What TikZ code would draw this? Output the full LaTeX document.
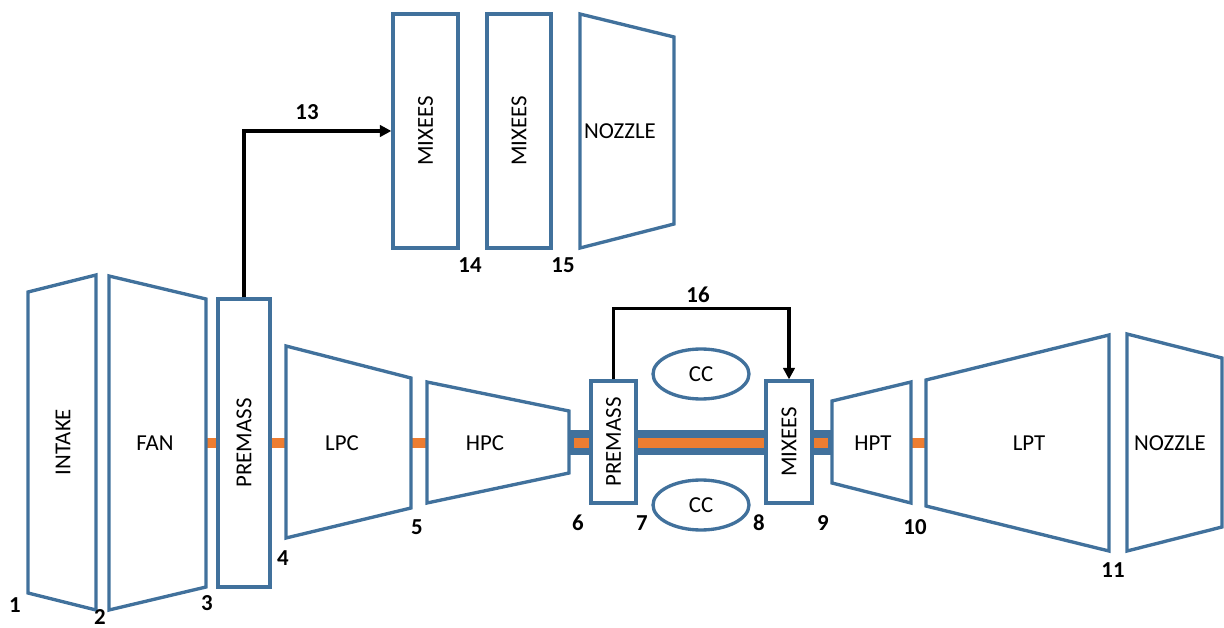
\documentclass[tikz,border=0pt]{standalone}
\usepackage{fontspec}
\setmainfont{Carlito}
\usepackage{graphicx}
\usetikzlibrary{arrows.meta,shapes.geometric}
\definecolor{engblue}{RGB}{65,113,156}
\definecolor{engorange}{RGB}{237,125,49}
\tikzset{
  part/.style={draw=engblue,line width=1.9pt,line join=miter},
  box/.style={part,fill=white,inner sep=0pt,font=\fontsize{13}{15}\selectfont},
  comp/.style={font=\fontsize{13}{15}\selectfont},
  stn/.style={font=\bfseries\fontsize{13}{15}\selectfont,inner sep=1pt},
  shaft/.style={fill=engorange},
  casing/.style={fill=engblue},
  bleed/.style={draw=black,line width=1.8pt,-{Triangle[length=6.5pt,width=6.5pt]}}
}
\begin{document}
\begin{tikzpicture}[x=0.02cm,y=-0.02cm]
			\useasboundingbox (0,0) rectangle (1224,628);
			% shafts
			\fill[shaft] (206,438) rectangle (218,448);
			\fill[shaft] (270,438) rectangle (286,448);
			\fill[shaft] (411,438) rectangle (427,448);
			\fill[casing] (569,430) rectangle (832,455);
			\fill[shaft] (574,437.5) rectangle (828,448);
			\fill[shaft] (911,438) rectangle (926,448);
			% core stages
			\draw[part] (28,292)--(96,275)--(96,610)--(28,593)--cycle;
			\draw[part] (109,276)--(206,299)--(206,587)--(109,610)--cycle;
			\draw[part] (286,346)--(411,378)--(411,508)--(286,538)--cycle;
			\draw[part] (427,382)--(569,411)--(569,473)--(427,503)--cycle;
			\draw[part] (832,401)--(911,382)--(911,503)--(832,483)--cycle;
			\draw[part] (926,380)--(1109,335)--(1109,551)--(926,506)--cycle;
			\draw[part] (1127,334)--(1222,358)--(1222,527)--(1127,551)--cycle;
			\draw[part] (580,14)--(674,37)--(674,224)--(580,248)--cycle;
			\node[box,minimum width=1.04cm,minimum height=5.76cm] (pm1) at (244,443) {\rotatebox{90}{PREMASS}};
			\node[box,minimum width=0.90cm,minimum height=2.44cm] (pm2) at (613.5,442) {\rotatebox{90}{PREMASS}};
			\node[box,minimum width=0.92cm,minimum height=2.44cm] (mx1) at (789,442) {\rotatebox{90}{MIXEES}};
			\node[box,minimum width=1.30cm,minimum height=4.68cm] (mxa) at (425.5,131) {\rotatebox{90}{MIXEES}};
			\node[box,minimum width=1.28cm,minimum height=4.68cm] (mxb) at (519,131) {\rotatebox{90}{MIXEES}};
			\node[box,ellipse,minimum width=1.92cm,minimum height=1.0cm] (cc1) at (701,374) {CC};
			\node[box,ellipse,minimum width=1.92cm,minimum height=1.0cm] (cc2) at (701,505) {CC};
			% bleed lines
			\draw[bleed] (pm1.north) |- (mxa.west);
			\draw[bleed] (pm2.north) -- ++(0,-71) -| (mx1.north);
			% stage names
			\node[comp,rotate=90] (intake) at (63,442) {INTAKE};
			\node[comp] (fan) at (155,443) {FAN};
			\node[comp] (lpc) at (342,443) {LPC};
			\node[comp] (hpc) at (485,443) {HPC};
			\node[comp] (hpt) at (873,443) {HPT};
			\node[comp] (lpt) at (1029,443) {LPT};
			\node[comp] (noz) at (1170,443) {NOZZLE};
			\node[comp] (noza) at (620,131) {NOZZLE};
			% station numbers
			\node[stn] (s1) at (15,605) {1};
			\node[stn] (s2) at (100,617) {2};
			\node[stn] (s3) at (207,603) {3};
			\node[stn] (s4) at (283,558) {4};
			\node[stn] (s5) at (417,527) {5};
			\node[stn] (s6) at (578,523) {6};
			\node[stn] (s7) at (642,523) {7};
			\node[stn] (s8) at (759,523) {8};
			\node[stn] (s9) at (823,523) {9};
			\node[stn] (s10) at (915,527) {10};
			\node[stn] (s11) at (1113,570) {11};
			\node[stn] (s13) at (307,112) {13};
			\node[stn] (s14) at (470,265) {14};
			\node[stn] (s15) at (563,265) {15};
			\node[stn] (s16) at (698,295) {16};
		\end{tikzpicture}
\end{document}
